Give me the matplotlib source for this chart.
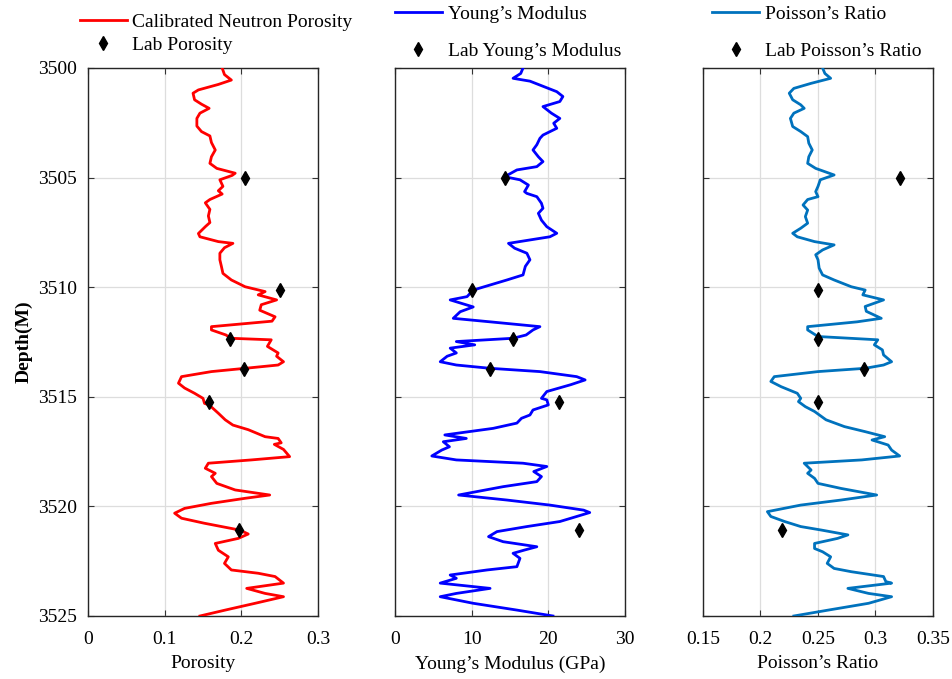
import numpy as np
import matplotlib
matplotlib.use('Agg')
import matplotlib.pyplot as plt
import matplotlib as mpl

mpl.rcParams['font.family'] = 'serif'
mpl.rcParams['font.serif'] = ['Liberation Serif', 'DejaVu Serif']
mpl.rcParams['font.size'] = 14

# calibrated neutron porosity log (depth in m, porosity fraction)
por_depth = [3500.0, 3500.3, 3500.55, 3500.75, 3501.0, 3501.15, 3501.45, 3501.65, 3501.84, 3502.06,
             3502.3, 3502.65, 3502.9, 3503.1, 3503.4, 3503.74, 3504.05, 3504.35, 3504.58, 3504.8,
             3504.9, 3505.1, 3505.4, 3505.6, 3505.75, 3506.0, 3506.15, 3506.45, 3506.75, 3507.05,
             3507.24, 3507.55, 3507.7, 3507.92, 3508.0, 3508.2, 3508.45, 3508.75, 3509.05, 3509.37,
             3509.67, 3509.98, 3510.2, 3510.35, 3510.58, 3510.8, 3511.05, 3511.35, 3511.55, 3511.8,
             3511.95, 3512.18, 3512.33, 3512.4, 3512.7, 3513.0, 3513.15, 3513.4, 3513.55, 3513.7,
             3513.85, 3514.08, 3514.38, 3514.6, 3514.84, 3515.07, 3515.3, 3515.37, 3515.75, 3516.05,
             3516.29, 3516.5, 3516.82, 3516.9, 3517.1, 3517.17, 3517.4, 3517.73, 3517.88, 3518.03,
             3518.26, 3518.49, 3518.64, 3518.95, 3519.25, 3519.48, 3519.63, 3519.86, 3520.09, 3520.31,
             3520.54, 3520.77, 3521.08, 3521.26, 3521.46, 3521.69, 3522.0, 3522.3, 3522.6, 3522.9,
             3523.05, 3523.2, 3523.5, 3523.74, 3523.97, 3524.12, 3524.42, 3524.73, 3525.0]
por_val = [0.175, 0.178, 0.187, 0.170, 0.144, 0.137, 0.139, 0.148, 0.158, 0.146,
           0.142, 0.142, 0.148, 0.159, 0.161, 0.166, 0.161, 0.159, 0.168, 0.192,
           0.188, 0.172, 0.176, 0.170, 0.175, 0.159, 0.153, 0.159, 0.157, 0.159,
           0.153, 0.144, 0.146, 0.170, 0.189, 0.178, 0.172, 0.172, 0.174, 0.176,
           0.187, 0.205, 0.231, 0.222, 0.246, 0.226, 0.224, 0.244, 0.240, 0.161,
           0.161, 0.180, 0.186, 0.239, 0.234, 0.248, 0.246, 0.255, 0.248, 0.205,
           0.161, 0.122, 0.118, 0.126, 0.139, 0.150, 0.152, 0.158, 0.170, 0.179,
           0.189, 0.209, 0.231, 0.248, 0.252, 0.243, 0.255, 0.263, 0.213, 0.157,
           0.153, 0.166, 0.161, 0.168, 0.192, 0.237, 0.205, 0.161, 0.126, 0.113,
           0.122, 0.152, 0.198, 0.209, 0.196, 0.166, 0.170, 0.183, 0.178, 0.187,
           0.222, 0.244, 0.255, 0.207, 0.231, 0.255, 0.218, 0.179, 0.146]

# dynamic Young's modulus log (GPa)
ym_depth = [3500.0, 3500.25, 3500.47, 3500.6, 3501.08, 3501.3, 3501.53, 3501.76, 3502.06, 3502.3,
            3502.52, 3502.75, 3503.06, 3503.21, 3503.5, 3503.74, 3504.05, 3504.27, 3504.5, 3504.65,
            3504.96, 3505.1, 3505.34, 3505.64, 3505.72, 3505.87, 3506.17, 3506.4, 3506.63, 3506.94,
            3507.24, 3507.54, 3507.7, 3508.0, 3508.22, 3508.45, 3508.75, 3509.05, 3509.44, 3509.67,
            3509.9, 3510.13, 3510.43, 3510.58, 3510.9, 3511.12, 3511.42, 3511.58, 3511.8, 3511.95,
            3512.18, 3512.33, 3512.48, 3512.63, 3512.78, 3513.0, 3513.15, 3513.4, 3513.55, 3513.7,
            3513.85, 3514.08, 3514.23, 3514.45, 3514.76, 3515.07, 3515.14, 3515.37, 3515.6, 3515.83,
            3515.98, 3516.2, 3516.44, 3516.74, 3516.9, 3517.05, 3517.28, 3517.43, 3517.7, 3517.88,
            3518.03, 3518.18, 3518.41, 3518.64, 3518.87, 3519.1, 3519.48, 3519.71, 3519.94, 3520.17,
            3520.28, 3520.46, 3520.69, 3520.92, 3521.15, 3521.38, 3521.61, 3521.84, 3521.99, 3522.14,
            3522.37, 3522.75, 3522.9, 3523.13, 3523.28, 3523.5, 3523.74, 3523.97, 3524.12, 3524.42,
            3524.73, 3525.0]
ym_val = [16.7, 16.4, 15.4, 17.6, 21.1, 21.9, 21.5, 19.3, 20.4, 21.5,
          20.7, 21.1, 19.3, 18.9, 18.5, 18.0, 18.7, 19.3, 18.5, 15.9,
          14.3, 16.3, 17.4, 16.9, 17.2, 18.5, 19.1, 19.3, 18.7, 19.1,
          19.8, 21.1, 20.2, 14.8, 15.6, 17.2, 17.6, 17.0, 16.7, 14.6,
          12.4, 10.2, 9.4, 7.2, 10.2, 8.5, 7.6, 12.4, 18.9, 18.0,
          17.1, 15.4, 8.0, 10.4, 7.2, 8.0, 6.8, 5.9, 8.0, 12.4,
          18.9, 23.7, 24.8, 22.9, 19.8, 19.1, 19.8, 20.0, 18.0, 17.6,
          16.5, 15.9, 12.8, 6.5, 9.3, 6.3, 7.1, 6.1, 4.8, 8.0,
          16.7, 19.8, 18.1, 19.1, 18.5, 14.1, 8.3, 14.6, 20.2, 24.6,
          25.4, 23.7, 21.5, 17.2, 13.3, 12.2, 14.1, 18.5, 16.9, 15.4,
          16.3, 15.9, 12.0, 7.2, 8.0, 5.9, 12.4, 8.0, 5.9, 10.2,
          15.9, 20.6]

# dynamic Poisson's ratio log
pr_depth = [3500.0, 3500.25, 3500.47, 3500.7, 3500.93, 3501.15, 3501.45, 3501.68, 3501.84, 3502.06,
            3502.3, 3502.67, 3502.9, 3503.13, 3503.43, 3503.74, 3504.05, 3504.35, 3504.58, 3504.88,
            3505.1, 3505.4, 3505.64, 3505.87, 3506.0, 3506.25, 3506.48, 3506.78, 3507.08, 3507.31,
            3507.54, 3507.7, 3507.92, 3508.07, 3508.3, 3508.52, 3508.75, 3509.13, 3509.44, 3509.67,
            3509.98, 3510.13, 3510.35, 3510.58, 3510.88, 3511.1, 3511.42, 3511.58, 3511.8, 3511.95,
            3512.25, 3512.4, 3512.63, 3512.86, 3513.09, 3513.4, 3513.55, 3513.7, 3513.85, 3514.08,
            3514.3, 3514.54, 3514.84, 3515.07, 3515.22, 3515.45, 3515.67, 3516.05, 3516.36, 3516.59,
            3516.82, 3516.97, 3517.2, 3517.43, 3517.7, 3517.88, 3518.03, 3518.34, 3518.49, 3518.72,
            3518.95, 3519.18, 3519.48, 3519.71, 3519.94, 3520.24, 3520.46, 3520.69, 3520.92, 3521.08,
            3521.3, 3521.46, 3521.69, 3521.92, 3522.07, 3522.3, 3522.6, 3522.83, 3522.98, 3523.2,
            3523.43, 3523.5, 3523.74, 3523.97, 3524.12, 3524.42, 3524.73, 3525.0]
pr_val = [0.254, 0.256, 0.261, 0.244, 0.229, 0.225, 0.228, 0.235, 0.238, 0.229,
          0.226, 0.228, 0.235, 0.241, 0.242, 0.245, 0.242, 0.241, 0.248, 0.264,
          0.252, 0.250, 0.248, 0.250, 0.241, 0.237, 0.241, 0.239, 0.241, 0.235,
          0.228, 0.232, 0.247, 0.264, 0.254, 0.248, 0.250, 0.251, 0.254, 0.264,
          0.279, 0.291, 0.289, 0.307, 0.291, 0.292, 0.305, 0.284, 0.241, 0.241,
          0.250, 0.302, 0.299, 0.306, 0.307, 0.314, 0.307, 0.291, 0.250, 0.212,
          0.209, 0.218, 0.232, 0.235, 0.233, 0.239, 0.247, 0.257, 0.273, 0.291,
          0.308, 0.297, 0.311, 0.314, 0.321, 0.288, 0.238, 0.244, 0.241, 0.247,
          0.250, 0.270, 0.301, 0.270, 0.235, 0.206, 0.209, 0.221, 0.235, 0.253,
          0.276, 0.267, 0.247, 0.247, 0.254, 0.261, 0.258, 0.264, 0.279, 0.307,
          0.309, 0.314, 0.276, 0.294, 0.314, 0.294, 0.259, 0.229]

# core plug measurements
lab_depth = [3505.0, 3510.15, 3512.35, 3513.73, 3515.25, 3521.08]
lab_por = [0.205, 0.250, 0.185, 0.204, 0.158, 0.197]
lab_ym = [14.3, 10.0, 15.4, 12.4, 21.4, 24.0]
lab_pr = [0.321, 0.250, 0.250, 0.290, 0.250, 0.219]

fig = plt.figure(figsize=(9.53, 6.79), dpi=100)
W, H = 953.0, 679.0
bottom = 1 - 616 / H
height = 548 / H
width = 230 / W
lefts = [88 / W, 395 / W, 703 / W]

panels = [
    dict(x=por_val, d=por_depth, lab=lab_por, color='#ff0000',
         label='Calibrated Neutron Porosity', lablabel='Lab Porosity',
         xlim=(0, 0.3), xticks=[0, 0.1, 0.2, 0.3], xticklabels=['0', '0.1', '0.2', '0.3'],
         xlabel='Porosity', legx=-0.035, legy=1.025, spacing=0.3),
    dict(x=ym_val, d=ym_depth, lab=lab_ym, color='#0000ff',
         label='Young\u2019s Modulus', lablabel='Lab Young\u2019s Modulus',
         xlim=(0, 30), xticks=[0, 10, 20, 30], xticklabels=['0', '10', '20', '30'],
         xlabel='Young\u2019s Modulus (GPa)', legx=0.0, legy=1.015, spacing=1.0),
    dict(x=pr_val, d=pr_depth, lab=lab_pr, color='#0072bd',
         label='Poisson\u2019s Ratio', lablabel='Lab Poisson\u2019s Ratio',
         xlim=(0.15, 0.35), xticks=[0.15, 0.2, 0.25, 0.3, 0.35],
         xticklabels=['0.15', '0.2', '0.25', '0.3', '0.35'],
         xlabel='Poisson\u2019s Ratio', legx=0.04, legy=1.015, spacing=1.0),
]

for i, p in enumerate(panels):
    ax = fig.add_axes([lefts[i], bottom, width, height])
    ax.plot(p['x'], p['d'], color=p['color'], lw=2.0, label=p['label'], zorder=3)
    ax.plot(p['lab'], lab_depth, linestyle='none', marker='d', color='black',
            markersize=7, label=p['lablabel'], zorder=4)
    ax.set_xlim(*p['xlim'])
    ax.set_ylim(3525, 3500)
    ax.set_xticks(p['xticks'])
    ax.set_xticklabels(p['xticklabels'])
    ax.set_yticks(np.arange(3500, 3526, 5))
    ax.grid(True, color='#dddddd', lw=0.9)
    ax.set_axisbelow(True)
    ax.tick_params(direction='in', top=True, right=True, length=4, width=0.8,
                   color='#333333', labelsize=14)
    ax.tick_params(axis='x', pad=11)
    ax.tick_params(axis='y', pad=8)
    for s in ax.spines.values():
        s.set_color('#262626')
        s.set_linewidth(1.0)
    ax.set_xlabel(p['xlabel'], fontsize=14, labelpad=5)
    if i == 0:
        ax.set_ylabel('Depth(M)', fontsize=14, fontweight='bold', labelpad=4)
    else:
        ax.set_yticklabels([])
    ax.legend(loc='lower left', bbox_to_anchor=(p['legx'], p['legy']), frameon=False,
              handlelength=2.4, handletextpad=0.3, borderpad=0, borderaxespad=0,
              labelspacing=p['spacing'], fontsize=14)

fig.savefig('out.png', dpi=100)
